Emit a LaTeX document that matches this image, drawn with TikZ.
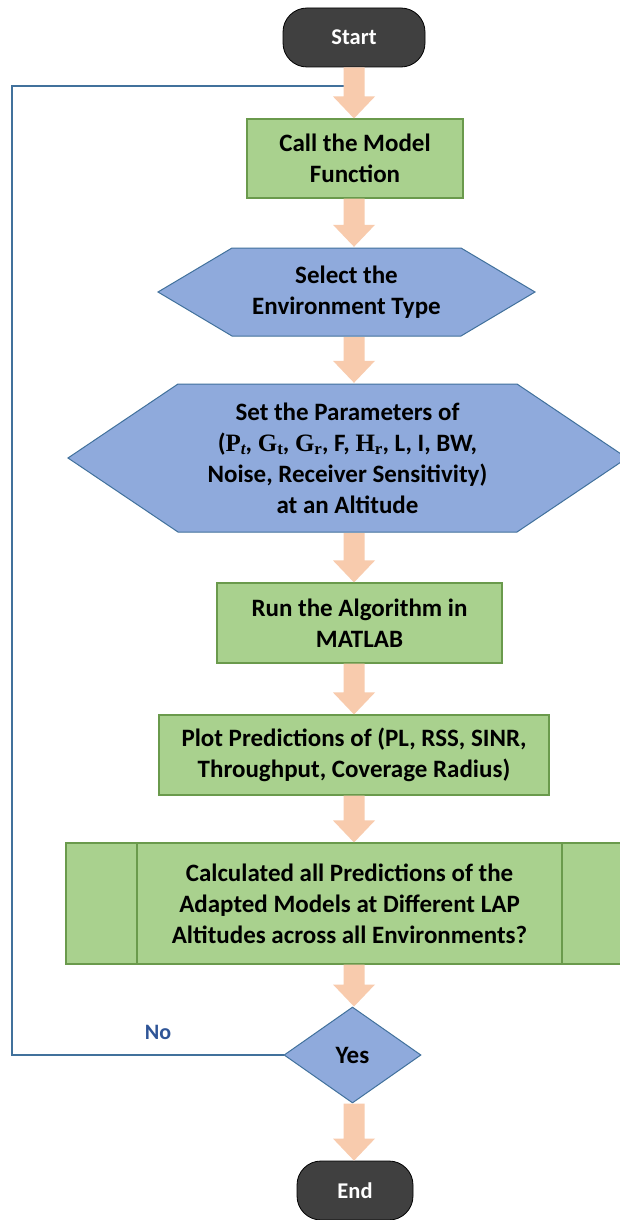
\documentclass[tikz,border=0pt]{standalone}
\usepackage{fontspec}
\setmainfont{Carlito}
\newfontfamily\symfont{Liberation Serif}
\usetikzlibrary{calc,shapes.geometric}

\definecolor{boxgreen}{HTML}{A9D18E}
\definecolor{greenline}{HTML}{6A9A4C}
\definecolor{hexblue}{HTML}{8FAADC}
\definecolor{blueline}{HTML}{41719C}
\definecolor{termfill}{HTML}{404040}
\definecolor{peach}{HTML}{F8CBAD}
\definecolor{nolabel}{HTML}{2F5597}

% symbol with a subscript, set in a serif face
\newcommand{\symsub}[2]{{\symfont #1}\raisebox{-0.3ex}{\fontsize{17}{17}\selectfont\symfont #2}}

% x position of the vertical flow arrows
\def\ax{354pt}
% thick block arrow from the bottom of one node to the top of the next
\newcommand{\blockflow}[2]{%
  \fill[peach] let \p1=(#1.south), \p2=(#2.north) in
    (\ax-10.5pt,\y1) -- (\ax+10.5pt,\y1) -- (\ax+10.5pt,\y2+22pt)
    -- (\ax+21pt,\y2+22pt) -- (\ax,\y2) -- (\ax-21pt,\y2+22pt)
    -- (\ax-10.5pt,\y2+22pt) -- cycle;}

\tikzset{
  txt/.style={font=\fontsize{25}{31}\selectfont\bfseries, align=center,
    text=black, inner sep=0pt},
  procbox/.style={txt, rectangle, fill=boxgreen, draw=greenline, line width=1.1pt},
  term/.style={rectangle, rounded corners=24pt, fill=termfill, draw=black,
    line width=0.8pt, text=white, inner sep=0pt,
    font=\fontsize{22.5}{26}\selectfont\bfseries},
  hexa/.style={txt, rectangle, path picture={
    \filldraw[fill=hexblue, draw=blueline, line width=1pt]
      ([xshift=1pt]path picture bounding box.west)
      -- ([shift={(#1,-1pt)}]path picture bounding box.north west)
      -- ([shift={(-#1,-1pt)}]path picture bounding box.north east)
      -- ([xshift=-1pt]path picture bounding box.east)
      -- ([shift={(-#1,1pt)}]path picture bounding box.south east)
      -- ([shift={(#1,1pt)}]path picture bounding box.south west) -- cycle;}},
  sidebars/.style={path picture={
    \draw[greenline, line width=1.1pt]
      ([xshift=#1]path picture bounding box.north west)
      -- ([xshift=#1]path picture bounding box.south west)
      ([xshift=-#1]path picture bounding box.north east)
      -- ([xshift=-#1]path picture bounding box.south east);}},
  decide/.style={txt, diamond, fill=hexblue, draw=blueline, line width=1pt},
  loopline/.style={draw=blueline, line width=1.2pt},
}

\begin{document}
\begin{tikzpicture}[x=1pt, y=-1pt]
  \useasboundingbox (0,0) rectangle (620,1220);
  \clip (0,0) rectangle (620,1220);
  \fill[white] (0,0) rectangle (620,1220);

  \node[term, minimum width=142pt, minimum height=59pt] (start) at (354,37.5) {Start};
  \node[procbox, minimum width=216pt, minimum height=79pt] (call) at (355,158.5)
    {Call the Model\\Function};
  \node[hexa=75pt, minimum width=379pt, minimum height=90pt] (sel) at (346.5,292)
    {Select the\\Environment Type};
  \node[hexa=111pt, minimum width=561pt, minimum height=150pt] (set) at (347.5,458)
    {Set the Parameters of\\
     (\symsub{P}{\itshape t}, \symsub{G}{t}, \symsub{G}{r}, F, \symsub{H}{r}, L, I, BW,\\
     Noise, Receiver Sensitivity)\\at an Altitude};
  \node[procbox, minimum width=285pt, minimum height=80pt] (run) at (359.5,623)
    {Run the Algorithm in\\MATLAB};
  \node[procbox, minimum width=390pt, minimum height=80pt] (plot) at (354,755)
    {Plot Predictions of (PL, RSS, SINR,\\Throughput, Coverage Radius)};
  \node[procbox, sidebars=71pt, minimum width=567pt, minimum height=121pt] (calc)
    at (349.5,903.5)
    {Calculated all Predictions of the\\Adapted Models at Different LAP\\
     Altitudes across all Environments?};
  \node[decide, minimum width=137pt, minimum height=96pt] (dec) at (352.5,1055) {Yes};
  \node[term, minimum width=116pt, minimum height=59pt] (end) at (355,1190.5) {End};
  \node[txt, text=nolabel, font=\fontsize{22}{26}\selectfont\bfseries] (nolbl)
    at (158,1032) {No};

  % "No" branch back to the top of the flow
  \coordinate (rail) at (12,86);
  \coordinate (loopin) at (354,86);
  \draw[loopline] (dec.west) -| (rail) -- (loopin);

  \blockflow{start}{call}
  \blockflow{call}{sel}
  \blockflow{sel}{set}
  \blockflow{set}{run}
  \blockflow{run}{plot}
  \blockflow{plot}{calc}
  \blockflow{calc}{dec}
  \blockflow{dec}{end}
\end{tikzpicture}
\end{document}
